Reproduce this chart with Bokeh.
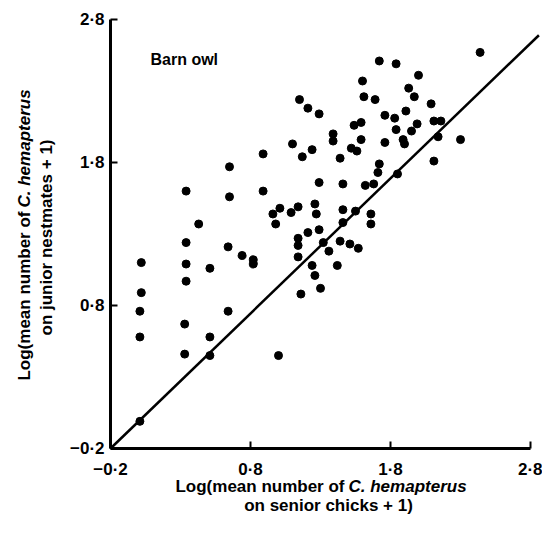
import math
from bokeh.plotting import figure
from bokeh.models import FixedTicker, Label, Range1d, LinearAxis
from bokeh.embed import file_html
from bokeh.resources import INLINE

# Log(mean number of C. hemapterus on senior chicks + 1)
senior = [2.44, 1.72, 1.84, 2.00, 1.60, 1.93, 1.97, 1.61, 1.69, 1.15,
          1.21, 1.29, 2.09, 1.91, 1.76, 1.83, 1.54, 1.59, 2.11, 2.16,
          1.99, 1.84, 1.95, 1.39, 1.39, 1.59, 2.14, 2.30, 1.76, 1.89,
          1.90, 1.52, 1.56, 1.24, 1.17, 1.44, 2.11, 1.72, 1.71, 1.85,
          1.10, 0.89, 0.65, 0.34, 0.65, 0.89, 1.29, 1.46, 1.62, 1.68,
          1.01, 0.96, 0.98, 1.09, 1.14, 1.26, 1.27, 1.46, 1.55, 1.66,
          1.66, 1.46, 1.29, 1.21, 1.14, 1.14, 1.32, 1.44, 1.51, 1.57,
          1.36, 0.43, 0.34, 0.64, 0.74, 0.82, 0.82, 1.14, 1.24, 1.26,
          1.16, 1.30, 1.42, 0.02, 0.34, 0.51, 0.34, 0.02, 0.01, 0.64,
          0.33, 0.01, 0.51, 0.33, 0.51, 1.00, 0.01]

# Log(mean number of C. hemapterus on junior nestmates + 1)
junior = [2.57, 2.51, 2.49, 2.41, 2.37, 2.32, 2.26, 2.26, 2.24, 2.24,
          2.18, 2.14, 2.21, 2.16, 2.13, 2.11, 2.06, 2.08, 2.09, 2.09,
          2.07, 2.03, 2.02, 2.00, 1.95, 1.96, 1.98, 1.96, 1.94, 1.96,
          1.93, 1.90, 1.88, 1.89, 1.84, 1.83, 1.81, 1.79, 1.73, 1.72,
          1.93, 1.86, 1.77, 1.60, 1.56, 1.60, 1.66, 1.65, 1.64, 1.65,
          1.48, 1.44, 1.37, 1.45, 1.49, 1.51, 1.44, 1.47, 1.46, 1.44,
          1.37, 1.38, 1.33, 1.31, 1.27, 1.22, 1.24, 1.25, 1.23, 1.20,
          1.18, 1.37, 1.24, 1.21, 1.15, 1.12, 1.09, 1.14, 1.08, 1.01,
          0.88, 0.92, 1.08, 1.10, 1.09, 1.06, 0.97, 0.89, 0.76, 0.76,
          0.67, 0.58, 0.58, 0.46, 0.45, 0.45, -0.01]

line_x = [-0.2, 2.86]
line_y = [-0.2, 2.69]

tick_values = [-0.2, 0.8, 1.8, 2.8]
tick_labels = ["\u22120\u00b72", "0\u00b78", "1\u00b78", "2\u00b78"]
axis_min, axis_max = -0.2, 2.8

panel_label = "Barn owl"
x_label_1a = "Log(mean number of"
x_label_1b = "C. hemapterus"
x_label_2 = "on senior chicks + 1)"
y_label_1a = "Log(mean number of"
y_label_1b = "C. hemapterus"
y_label_2 = "on junior nestmates + 1)"

# ---- layout geometry (canvas pixels) ----
W, H = 542, 530
FL, FR, FT, FB = 110, 530, 19, 448          # where the axes sit
kx = (FR - FL) / (axis_max - axis_min)
ky = (FB - FT) / (axis_max - axis_min)
x_lo, x_hi = axis_min - FL / kx, axis_min + (W - FL) / kx
y_lo, y_hi = axis_min - (H - FB) / ky, axis_min + FB / ky

p = figure(width=W, height=H, output_backend="svg", toolbar_location=None,
           title=None, x_axis_location=None, y_axis_location=None,
           x_range=Range1d(x_lo, x_hi), y_range=Range1d(y_lo, y_hi),
           min_border=0)
p.outline_line_color = None
p.xgrid.visible = False
p.ygrid.visible = False
p.background_fill_color = "white"
p.border_fill_color = "white"

FONT = "Liberation Sans"
xax = LinearAxis(fixed_location=axis_min)
yax = LinearAxis(fixed_location=axis_min)
p.add_layout(xax, "below")
p.add_layout(yax, "left")
for ax in (xax, yax):
    ax.bounds = (axis_min, axis_max)
    ax.ticker = FixedTicker(ticks=tick_values)
    ax.major_label_overrides = {v: t for v, t in zip(tick_values, tick_labels)}
    ax.axis_line_width = 3
    ax.axis_line_color = "black"
    ax.major_tick_in = 7
    ax.major_tick_out = 0
    ax.major_tick_line_width = 2
    ax.minor_tick_line_color = None
    ax.major_label_text_font = FONT
    ax.major_label_text_font_style = "bold"
    ax.major_label_text_font_size = "17px"
    ax.major_label_text_color = "black"
xax.major_label_standoff = 11
yax.major_label_standoff = 6

p.line(line_x, line_y, line_width=2.5, color="black")
p.scatter(senior, junior, size=8, color="black")

common = dict(text_font=FONT, text_font_size="17px", text_color="black",
              text_baseline="middle", x_units="canvas", y_units="canvas")

p.add_layout(Label(x=150, y=59, text=panel_label, text_font_size="16px",
                   text_align="left", text_font_style="bold",
                   **{k: v for k, v in common.items() if k != "text_font_size"}))

# x-axis title (two lines, italic species name)
xs = 348
p.add_layout(Label(x=xs - 4, y=486, text=x_label_1a,
                   text_align="right", text_font_style="bold", **common))
p.add_layout(Label(x=xs, y=486, text=x_label_1b,
                   text_align="left", text_font_style="bold italic", **common))
p.add_layout(Label(x=328, y=505, text=x_label_2,
                   text_align="center", text_font_style="bold", **common))

# y-axis title (rotated)
ys = 207
p.add_layout(Label(x=24, y=ys + 4, text=y_label_1a, angle=math.pi / 2,
                   text_align="right", text_font_style="bold", **common))
p.add_layout(Label(x=24, y=ys, text=y_label_1b, angle=math.pi / 2,
                   text_align="left", text_font_style="bold italic", **common))
p.add_layout(Label(x=46, y=237, text=y_label_2, angle=math.pi / 2,
                   text_align="center", text_font_style="bold", **common))

open("out.html", "w").write(file_html(p, INLINE))
